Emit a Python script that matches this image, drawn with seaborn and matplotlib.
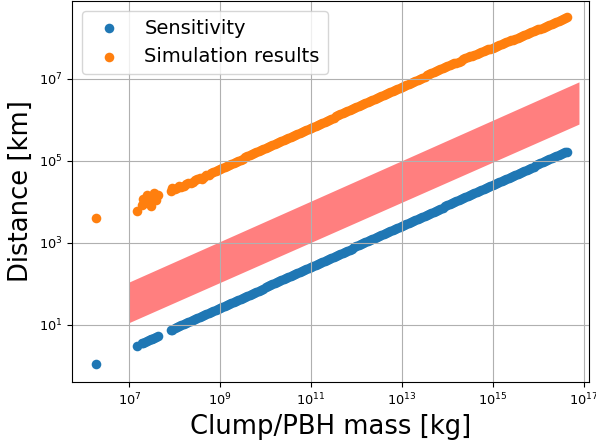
import numpy as np
import pandas as pd
import matplotlib
matplotlib.use("Agg")
import matplotlib.pyplot as plt
import matplotlib.ticker as mticker
import seaborn as sns

# log10 of clump/PBH mass [kg]
mass_exp = [6.27, 7.16, 7.27, 7.31, 7.35, 7.39, 7.43, 7.47, 7.51, 7.55, 7.59, 7.63, 7.91, 7.95,
            8.00, 8.05, 8.10, 8.15, 8.20, 8.25, 8.30, 8.35, 8.40, 8.45, 8.50, 8.55, 8.60, 8.65, 8.70, 8.75, 8.80, 8.85, 8.90, 8.95,
            9.00, 9.05, 9.10, 9.15, 9.20, 9.25, 9.30, 9.35, 9.40, 9.45, 9.50, 9.55, 9.60, 9.65, 9.70, 9.75, 9.80, 9.85, 9.90, 9.95,
            10.00, 10.05, 10.10, 10.15, 10.20, 10.25, 10.30, 10.35, 10.40, 10.45, 10.50, 10.55, 10.60, 10.65, 10.70, 10.75, 10.80, 10.85, 10.90, 10.95,
            11.00, 11.05, 11.10, 11.15, 11.20, 11.25, 11.30, 11.35, 11.40, 11.45, 11.50, 11.55, 11.60, 11.65, 11.70, 11.75, 11.80, 11.85, 11.90, 11.95,
            12.00, 12.05, 12.10, 12.15, 12.20, 12.25, 12.30, 12.35, 12.40, 12.45, 12.50, 12.55, 12.60, 12.65, 12.70, 12.75, 12.80, 12.85, 12.90, 12.95,
            13.00, 13.05, 13.10, 13.15, 13.20, 13.25, 13.30, 13.35, 13.40, 13.45, 13.50, 13.55, 13.60, 13.65, 13.70, 13.75, 13.80, 13.85, 13.90, 13.95,
            14.00, 14.05, 14.10, 14.15, 14.20, 14.25, 14.30, 14.35, 14.40, 14.45, 14.50, 14.55, 14.60, 14.65, 14.70, 14.75, 14.80, 14.85, 14.90, 14.95,
            15.00, 15.05, 15.10, 15.15, 15.20, 15.25, 15.30, 15.35, 15.40, 15.45, 15.50, 15.55, 15.60, 15.65, 15.70, 15.75, 15.80, 15.85, 15.90, 15.95,
            16.00, 16.05, 16.10, 16.15, 16.20, 16.25, 16.30, 16.35, 16.40, 16.45, 16.50, 16.55, 16.60, 16.63]

# log10 of distance [km] - Sensitivity
sens_exp = [0.04, 0.49, 0.55, 0.57, 0.59, 0.61, 0.63, 0.65, 0.67, 0.69, 0.71, 0.73, 0.87, 0.89,
            0.915, 0.940, 0.965, 0.990, 1.015, 1.040, 1.065, 1.090, 1.115, 1.140, 1.165, 1.190, 1.215, 1.240, 1.265, 1.290, 1.315, 1.340, 1.365, 1.390,
            1.415, 1.440, 1.465, 1.490, 1.515, 1.540, 1.565, 1.590, 1.615, 1.640, 1.665, 1.690, 1.715, 1.740, 1.765, 1.790, 1.815, 1.840, 1.865, 1.890,
            1.915, 1.940, 1.965, 1.990, 2.015, 2.040, 2.065, 2.090, 2.115, 2.140, 2.165, 2.190, 2.215, 2.240, 2.265, 2.290, 2.315, 2.340, 2.365, 2.390,
            2.415, 2.440, 2.465, 2.490, 2.515, 2.540, 2.565, 2.590, 2.615, 2.640, 2.665, 2.690, 2.715, 2.740, 2.765, 2.790, 2.815, 2.840, 2.865, 2.890,
            2.915, 2.940, 2.965, 2.990, 3.015, 3.040, 3.065, 3.090, 3.115, 3.140, 3.165, 3.190, 3.215, 3.240, 3.265, 3.290, 3.315, 3.340, 3.365, 3.390,
            3.415, 3.440, 3.465, 3.490, 3.515, 3.540, 3.565, 3.590, 3.615, 3.640, 3.665, 3.690, 3.715, 3.740, 3.765, 3.790, 3.815, 3.840, 3.865, 3.890,
            3.915, 3.940, 3.965, 3.990, 4.015, 4.040, 4.065, 4.090, 4.115, 4.140, 4.165, 4.190, 4.215, 4.240, 4.265, 4.290, 4.315, 4.340, 4.365, 4.390,
            4.415, 4.440, 4.465, 4.490, 4.515, 4.540, 4.565, 4.590, 4.615, 4.640, 4.665, 4.690, 4.715, 4.740, 4.765, 4.790, 4.815, 4.840, 4.865, 4.890,
            4.915, 4.940, 4.965, 4.990, 5.015, 5.040, 5.065, 5.090, 5.115, 5.140, 5.165, 5.190, 5.215, 5.230]

# log10 of distance [km] - Simulation results
sim_exp = [3.62, 3.78, 3.92, 4.08, 3.97, 4.18, 4.03, 3.90, 4.12, 4.22, 4.06, 4.16, 4.27, 4.33,
           4.31, 4.35, 4.38, 4.36, 4.40, 4.45, 4.47, 4.46, 4.49, 4.54, 4.56, 4.58, 4.55, 4.60, 4.66, 4.67, 4.70, 4.73, 4.75, 4.78,
           4.810, 4.835, 4.860, 4.885, 4.910, 4.935, 4.960, 4.985, 5.010, 5.035, 5.060, 5.085, 5.110, 5.135, 5.160, 5.185, 5.210, 5.235, 5.260, 5.285,
           5.310, 5.335, 5.360, 5.385, 5.410, 5.435, 5.460, 5.485, 5.510, 5.535, 5.560, 5.585, 5.610, 5.635, 5.660, 5.685, 5.710, 5.735, 5.760, 5.785,
           5.810, 5.835, 5.860, 5.885, 5.910, 5.935, 5.960, 5.985, 6.010, 6.035, 6.060, 6.085, 6.110, 6.135, 6.160, 6.185, 6.210, 6.235, 6.260, 6.285,
           6.310, 6.335, 6.360, 6.385, 6.410, 6.435, 6.460, 6.485, 6.510, 6.535, 6.560, 6.585, 6.610, 6.635, 6.660, 6.685, 6.710, 6.735, 6.760, 6.785,
           6.810, 6.835, 6.860, 6.885, 6.910, 6.935, 6.960, 6.985, 7.010, 7.035, 7.060, 7.085, 7.110, 7.135, 7.160, 7.185, 7.210, 7.235, 7.260, 7.285,
           7.310, 7.335, 7.360, 7.380, 7.400, 7.425, 7.450, 7.475, 7.500, 7.525, 7.550, 7.570, 7.590, 7.610, 7.630, 7.655, 7.680, 7.700, 7.720, 7.740,
           7.760, 7.780, 7.800, 7.825, 7.850, 7.870, 7.890, 7.915, 7.940, 7.960, 7.980, 8.005, 8.030, 8.050, 8.070, 8.095, 8.120, 8.140, 8.160, 8.185,
           8.210, 8.230, 8.250, 8.275, 8.300, 8.320, 8.340, 8.365, 8.390, 8.410, 8.430, 8.455, 8.480, 8.500]

# red band (log10 values)
band_mass_exp = [7.0, 16.9]
band_low_exp = [1.06, 5.90]
band_high_exp = [2.05, 6.93]

# tick labels
xtick_exp = [7, 9, 11, 13, 15, 17]
ytick_exp = [1, 3, 5, 7]

mass = 10 ** np.array(mass_exp)
df = pd.DataFrame({
    "mass": mass,
    "sens": 10 ** np.array(sens_exp),
    "sim": 10 ** np.array(sim_exp),
})

fig = plt.figure(figsize=(5.96, 4.45), dpi=100)
ax = fig.add_axes([0.1216, 0.1416, 0.8666, 0.8560])

sns.scatterplot(data=df, x="mass", y="sens", color="#1f77b4", s=48, linewidth=0,
                label="Sensitivity", ax=ax)
sns.scatterplot(data=df, x="mass", y="sim", color="#ff7f0e", s=48, linewidth=0,
                label="Simulation results", ax=ax)
ax.fill_between(10 ** np.array(band_mass_exp), 10 ** np.array(band_low_exp),
                10 ** np.array(band_high_exp), color="red", alpha=0.5, linewidth=0)

ax.set_xscale("log")
ax.set_yscale("log")
ax.set_xlim(10 ** 5.75, 10 ** 17.12)
ax.set_ylim(10 ** -0.39, 10 ** 8.90)
ax.xaxis.set_major_locator(mticker.FixedLocator([10.0 ** e for e in xtick_exp]))
ax.yaxis.set_major_locator(mticker.FixedLocator([10.0 ** e for e in ytick_exp]))
ax.xaxis.set_minor_locator(mticker.NullLocator())
ax.yaxis.set_minor_locator(mticker.NullLocator())
ax.grid(True, color="#b0b0b0", linewidth=0.8)
ax.set_xlabel("Clump/PBH mass [kg]", fontsize=18.6)
ax.set_ylabel("Distance [km]", fontsize=18.6)
ax.tick_params(labelsize=9.3)
ax.legend(loc="upper left", fontsize=14)

fig.savefig("out.png", dpi=100)
